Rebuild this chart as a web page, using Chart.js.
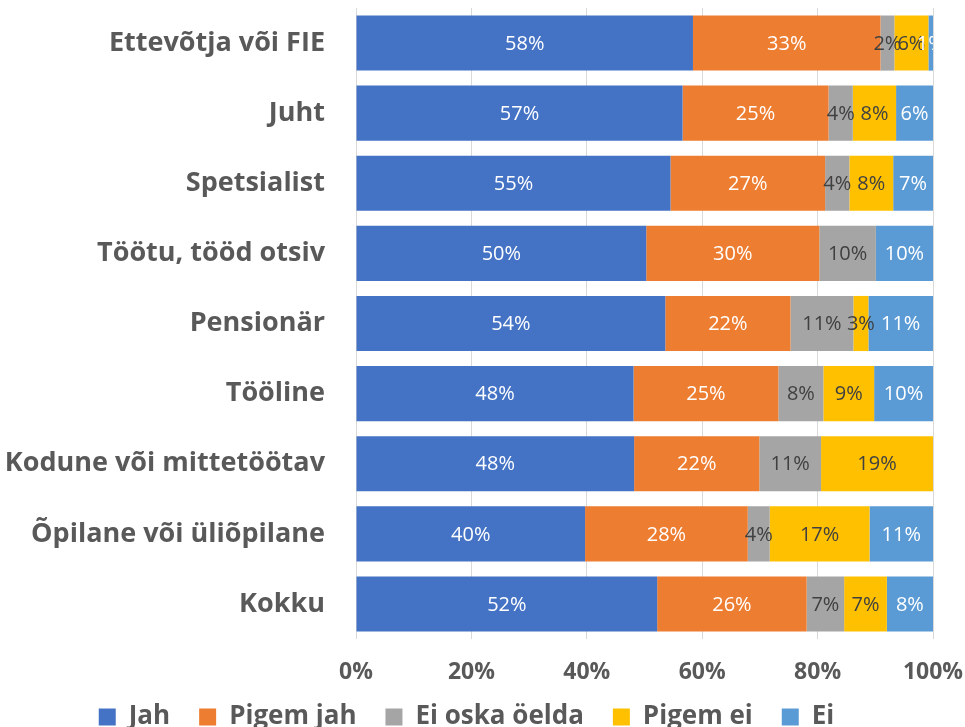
<!DOCTYPE html>
<html>
<head>
<meta charset="utf-8">
<script src="https://cdn.jsdelivr.net/npm/chart.js@4"></script>
<style>
  body { margin: 0; background: #fff; }
  #wrap { width: 965px; height: 727px; }
</style>
</head>
<body>
<div id="wrap"><canvas id="myChart" width="965" height="727"></canvas></div>
<script>
// categories (top to bottom)
const categories = [
    "Ettevõtja või FIE",
    "Juht",
    "Spetsialist",
    "Töötu, tööd otsiv",
    "Pensionär",
    "Tööline",
    "Kodune või mittetöötav",
    "Õpilane või üliõpilane",
    "Kokku"
];

// shares in %
const jah      = [58.4, 56.6, 54.5, 50.3, 53.6, 48.1, 48.2, 39.7, 52.2];
const pigemJah = [32.5, 25.3, 26.8, 30.0, 21.7, 25.1, 21.7, 28.2, 25.9];
const eiOska   = [2.4, 4.2, 4.2, 9.8, 10.9, 7.8, 10.7, 3.8, 6.5];
const pigemEi  = [5.9, 7.5, 7.6, 0, 2.6, 8.8, 19.4, 17.3, 7.4];
const ei       = [0.8, 6.4, 6.9, 9.9, 11.2, 10.2, 0, 11.0, 8.0];

const seriesNames = ["Jah", "Pigem jah", "Ei oska öelda", "Pigem ei", "Ei"];
const xTicks = [0, 20, 40, 60, 80, 100];

const colors = ['#4472C4', '#ED7D31', '#A5A5A5', '#FFC000', '#5B9BD5'];
const labelColors = ['#ffffff', '#ffffff', '#404040', '#404040', '#ffffff'];
const FONT = "'Open Sans', 'DejaVu Sans', sans-serif";

// simple value labels, centred in each segment (no datalabels plugin offline)
const barLabels = {
    id: 'barLabels',
    afterDatasetsDraw(chart) {
        const ctx = chart.ctx;
        const area = chart.chartArea;
        ctx.save();
        ctx.beginPath();
        ctx.rect(area.left, area.top, area.right - area.left, area.bottom - area.top);
        ctx.clip();
        ctx.font = "20px " + FONT;
        ctx.textAlign = 'center';
        ctx.textBaseline = 'middle';
        chart.data.datasets.forEach((ds, i) => {
            const meta = chart.getDatasetMeta(i);
            if (meta.hidden) return;
            meta.data.forEach((bar, j) => {
                const v = ds.data[j];
                if (!v) return;
                const p = bar.getProps(['x', 'y', 'base'], true);
                ctx.fillStyle = labelColors[i];
                ctx.fillText(Math.round(v) + '%', (p.x + p.base) / 2, p.y + 1);
            });
        });
        ctx.restore();
    }
};

const allSeries = [jah, pigemJah, eiOska, pigemEi, ei];

const myChart = new Chart(document.getElementById('myChart'), {
    type: 'bar',
    data: {
        labels: categories,
        datasets: allSeries.map((vals, i) => ({
            label: seriesNames[i],
            data: vals,
            backgroundColor: colors[i],
            borderWidth: 0,
            barPercentage: 0.786,
            categoryPercentage: 1
        }))
    },
    options: {
        indexAxis: 'y',
        responsive: false,
        animation: false,
        layout: { padding: { top: 8, right: 32, left: 0, bottom: -13 } },
        plugins: {
            tooltip: { enabled: false },
            legend: {
                position: 'bottom',
                labels: {
                    boxWidth: 17,
                    boxHeight: 17,
                    padding: 29,
                    color: '#595959',
                    font: { family: FONT, size: 26, weight: 'bold' }
                }
            }
        },
        scales: {
            x: {
                stacked: true,
                min: 0,
                max: 100,
                afterBuildTicks: (scale) => {
                    scale.ticks = xTicks.map(v => ({ value: v }));
                },
                afterFit: (scale) => {
                    scale.height = 36;
                    scale.paddingLeft = 0;
                    scale.paddingRight = 0;
                    // tick labels hang into the legend band, don't clip them
                    scale._computeLabelArea = () => null;
                },
                grid: { color: '#d9d9d9', lineWidth: 1, drawTicks: false },
                border: { display: false },
                ticks: {
                    padding: 20,
                    color: '#595959',
                    font: { family: FONT, size: 23, weight: 'bold' },
                    callback: (v) => v + '%'
                }
            },
            y: {
                stacked: true,
                afterFit: (scale) => {
                    scale.width = 356;
                    scale.paddingTop = 0;
                    scale.paddingBottom = 0;
                },
                grid: { display: false, drawTicks: false },
                border: { display: false },
                ticks: {
                    padding: 31,
                    color: '#595959',
                    font: { family: FONT, size: 27, weight: 'bold' }
                }
            }
        }
    },
    plugins: [barLabels]
});
</script>
</body>
</html>
